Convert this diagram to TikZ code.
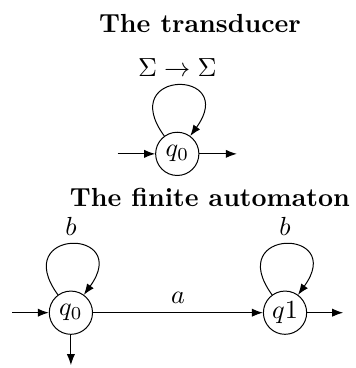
\RequirePackage{fix-cm}
\documentclass[tikz,border=0pt]{standalone}
\usepackage{amsmath}
\usepackage{amssymb}
\usetikzlibrary{arrows.meta}

\begin{document}
\begin{tikzpicture}[x=1cm,y=1cm,>={Latex[length=4.4pt,width=3.3pt]},
  every node/.style={font=\fontsize{10.5}{12.5}\selectfont},
  st/.style={draw,circle,minimum size=0.61cm,inner sep=0pt},
  lp/.style={->,out=126,in=54,looseness=8.2}]
\useasboundingbox (0,0) rectangle (5.01,5.19);
% the transducer
\node[font=\fontsize{10.5}{12.5}\selectfont\bfseries] (ttl1) at (2.82,4.86) {The transducer};
\node[st] (t0) at (2.50,3.02) {$q_0$};
\coordinate (tin) at (1.66,3.02);
\coordinate (tout) at (3.34,3.02);
\draw[->] (tin) -- (t0);
\draw[->] (t0) -- (tout);
\draw (t0) edge[lp] node[above] {$\Sigma \rightarrow \Sigma$} (t0);
% the finite automaton
\node[font=\fontsize{10.5}{12.5}\selectfont\bfseries] (ttl2) at (2.96,2.40) {The finite automaton};
\node[st] (a0) at (1.00,0.78) {$q_0$};
\node[st] (a1) at (4.02,0.78) {$q1$};
\coordinate (ain) at (0.17,0.78);
\coordinate (aout) at (4.84,0.78);
\coordinate (adown) at (1.00,0.04);
\draw[->] (ain) -- (a0);
\draw[->] (a0) -- node[above] {$a$} (a1);
\draw[->] (a1) -- (aout);
\draw[->] (a0) -- (adown);
\draw (a0) edge[lp] node[above] {$b$} (a0);
\draw (a1) edge[lp] node[above] {$b$} (a1);
\end{tikzpicture}
\end{document}
